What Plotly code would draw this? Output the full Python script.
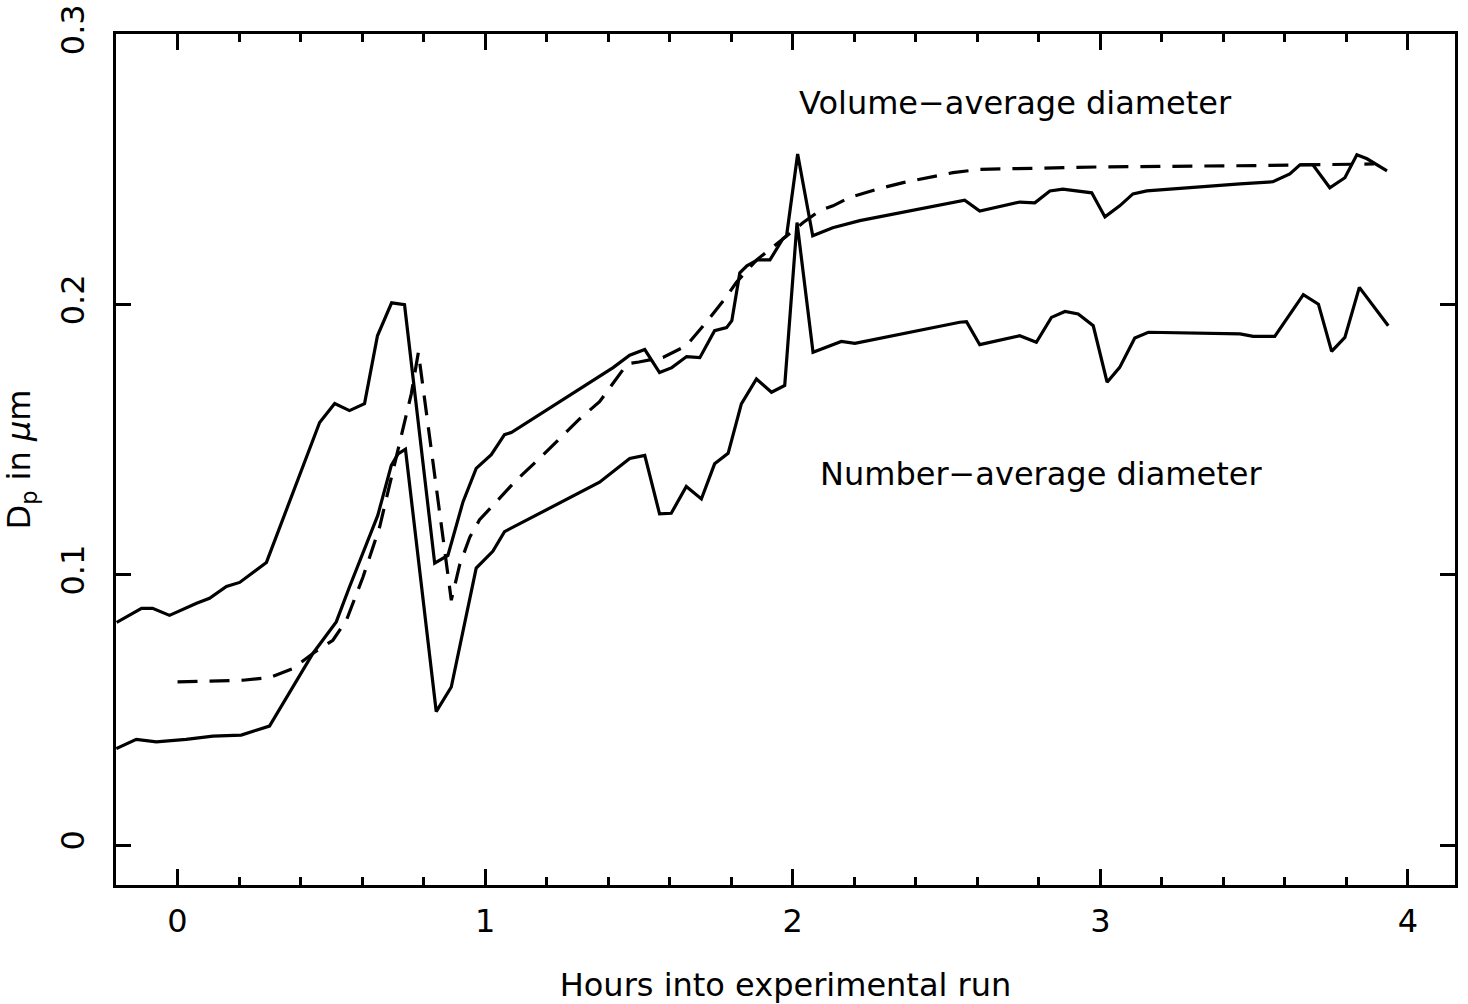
import plotly.graph_objects as go

# Volume-average diameter (upper solid curve)
vol_hours = [-0.198, -0.117, -0.081, -0.026, 0.062, 0.104, 0.159, 0.202, 0.289, 0.462,
             0.511, 0.559, 0.608, 0.650, 0.696, 0.738, 0.836, 0.879, 0.928, 0.971,
             1.020, 1.063, 1.085, 1.416, 1.470, 1.519, 1.567, 1.607, 1.655, 1.698,
             1.746, 1.785, 1.802, 1.828, 1.851, 1.886, 1.926, 1.968, 1.980, 2.016,
             2.065, 2.130, 2.218, 2.348, 2.511, 2.559, 2.608, 2.738, 2.787, 2.836,
             2.878, 2.972, 3.015, 3.063, 3.106, 3.151, 3.454, 3.561, 3.616, 3.649,
             3.691, 3.746, 3.795, 3.834, 3.867, 3.932]
vol_dp = [0.0824, 0.0876, 0.0876, 0.0850, 0.0895, 0.0913, 0.0957, 0.0972, 0.1046, 0.1564,
          0.1634, 0.1608, 0.1634, 0.1885, 0.2007, 0.2000, 0.1043, 0.1072, 0.1270, 0.1394,
          0.1445, 0.1519, 0.1527, 0.1767, 0.1813, 0.1834, 0.1749, 0.1767, 0.1808, 0.1804,
          0.1904, 0.1915, 0.1941, 0.2118, 0.2144, 0.2166, 0.2166, 0.2244, 0.2255, 0.2558,
          0.2255, 0.2285, 0.2311, 0.2340, 0.2377, 0.2387, 0.2347, 0.2380, 0.2377, 0.2421,
          0.2428, 0.2414, 0.2325, 0.2366, 0.2410, 0.2421, 0.2447, 0.2455, 0.2484, 0.2518,
          0.2518, 0.2433, 0.2470, 0.2555, 0.2540, 0.2495]

# Number-average diameter (lower solid curve)
num_hours = [-0.199, -0.134, -0.069, 0.028, 0.115, 0.207, 0.256, 0.299, 0.440, 0.516,
             0.559, 0.651, 0.695, 0.717, 0.741, 0.841, 0.890, 0.971, 1.025, 1.063,
             1.372, 1.470, 1.519, 1.567, 1.605, 1.654, 1.703, 1.746, 1.790, 1.833,
             1.882, 1.931, 1.974, 2.014, 2.066, 2.158, 2.202, 2.543, 2.565, 2.608,
             2.738, 2.792, 2.841, 2.885, 2.928, 2.977, 3.022, 3.063, 3.112, 3.156,
             3.454, 3.497, 3.567, 3.660, 3.709, 3.752, 3.795, 3.842, 3.936]
num_dp = [0.0357, 0.0391, 0.0382, 0.0391, 0.0403, 0.0407, 0.0425, 0.0440, 0.0709, 0.0826,
          0.0955, 0.1220, 0.1405, 0.1448, 0.1465, 0.0494, 0.0585, 0.1025, 0.1087, 0.1160,
          0.1343, 0.1431, 0.1442, 0.1226, 0.1228, 0.1327, 0.1281, 0.1411, 0.1450, 0.1633,
          0.1725, 0.1676, 0.1701, 0.2304, 0.1824, 0.1864, 0.1857, 0.1935, 0.1937, 0.1852,
          0.1885, 0.1861, 0.1953, 0.1975, 0.1966, 0.1922, 0.1713, 0.1768, 0.1877, 0.1898,
          0.1892, 0.1883, 0.1883, 0.2037, 0.2002, 0.1827, 0.1879, 0.2064, 0.1922]

# Dashed curve
dash_hours = [0.000, 0.212, 0.299, 0.375, 0.440, 0.505, 0.549, 0.603, 0.657, 0.695,
              0.733, 0.760, 0.783, 0.890, 0.917, 0.950, 0.982, 1.036, 1.101, 1.177,
              1.242, 1.307, 1.372, 1.430, 1.462, 1.500, 1.578, 1.654, 1.719, 1.779,
              1.817, 1.882, 1.947, 1.979, 2.034, 2.088, 2.131, 2.185, 2.272, 2.359,
              2.467, 2.521, 2.608, 3.000, 3.500, 3.890]
dash_dp = [0.0604, 0.0610, 0.0620, 0.0653, 0.0709, 0.0758, 0.0832, 0.0992, 0.1177, 0.1362,
           0.1546, 0.1670, 0.1824, 0.0906, 0.1036, 0.1139, 0.1204, 0.1270, 0.1350, 0.1431,
           0.1503, 0.1577, 0.1641, 0.1734, 0.1781, 0.1788, 0.1805, 0.1848, 0.1935, 0.2021,
           0.2083, 0.2165, 0.2224, 0.2255, 0.2304, 0.2348, 0.2366, 0.2397, 0.2427, 0.2452,
           0.2477, 0.2489, 0.2501, 0.2510, 0.2515, 0.2521]

x_ticks = [0, 1, 2, 3, 4]
x_ticklabels = ["0", "1", "2", "3", "4"]
y_ticks = [0, 0.1, 0.2, 0.3]
y_ticklabels = ["0", "0.1", "0.2", "0.3"]

FONT = "DejaVu Sans"

fig = go.Figure()
fig.add_trace(go.Scatter(x=vol_hours, y=vol_dp, mode="lines",
                         line=dict(color="black", width=3.2), showlegend=False))
fig.add_trace(go.Scatter(x=num_hours, y=num_dp, mode="lines",
                         line=dict(color="black", width=3.2), showlegend=False))
fig.add_trace(go.Scatter(x=dash_hours, y=dash_dp, mode="lines",
                         line=dict(color="black", width=3.2, dash="20px,12px"), showlegend=False))

fig.add_annotation(x=2.725, y=0.2747, xref="x", yref="y", text="Volume−average diameter",
                   showarrow=False, font=dict(family=FONT, size=32, color="black"))
fig.add_annotation(x=2.806, y=0.1375, xref="x", yref="y", text="Number−average diameter",
                   showarrow=False, font=dict(family=FONT, size=32, color="black"))

fig.update_layout(
    width=1468, height=1004,
    margin=dict(l=116, r=13, t=34, b=119, autoexpand=False),
    paper_bgcolor="white", plot_bgcolor="white",
    font=dict(family=FONT, color="black"),
)
fig.update_xaxes(
    range=[-0.2, 4.153], tickmode="array", tickvals=x_ticks, ticktext=x_ticklabels,
    ticks="inside", ticklen=16, tickwidth=2.5, tickcolor="black",
    minor=dict(dtick=0.2, tick0=0, ticks="inside", ticklen=8, tickwidth=2.5, tickcolor="black"),
    showline=True, linewidth=2.8, linecolor="black", mirror="ticks",
    showgrid=False, zeroline=False, automargin=False,
    tickfont=dict(family=FONT, size=32, color="black"), ticklabelstandoff=6,
    title=dict(text="Hours into experimental run", font=dict(family=FONT, size=32, color="black"),
               standoff=46),
)
fig.update_yaxes(
    range=[-0.0148, 0.3002], tickmode="array", tickvals=y_ticks, ticktext=y_ticklabels,
    ticks="inside", ticklen=15, tickwidth=2.5, tickcolor="black", tickangle=-90,
    showline=True, linewidth=2.8, linecolor="black", mirror="ticks",
    showgrid=False, zeroline=False, automargin=False,
    tickfont=dict(family=FONT, size=32, color="black"), ticklabelstandoff=16,
    title=dict(text="D<sub>p</sub> in <i>μ</i>m", font=dict(family=FONT, size=32, color="black"),
               standoff=24),
)

fig.write_html("out.html")
